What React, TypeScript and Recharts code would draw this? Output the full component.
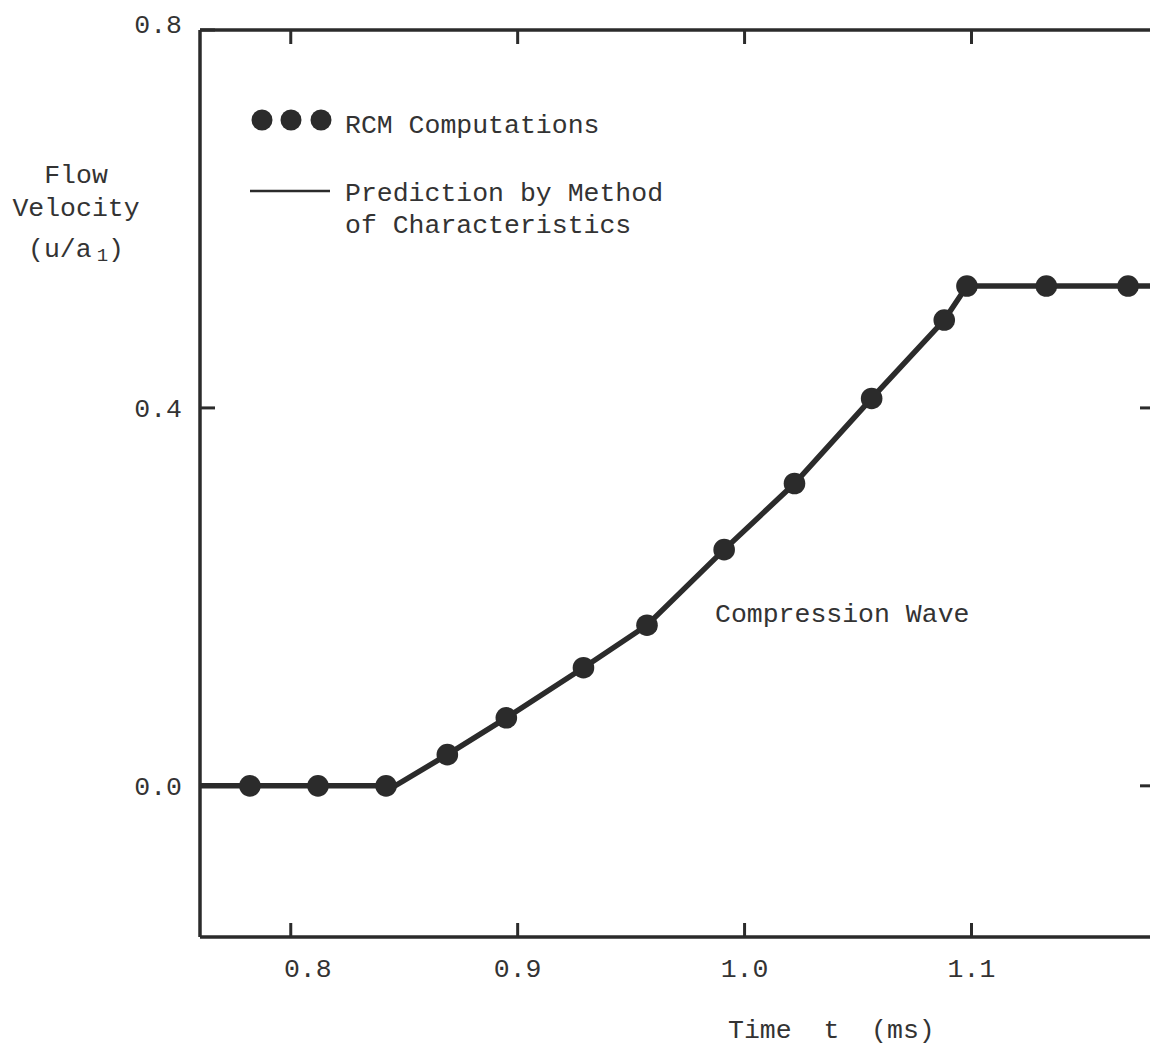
import React from 'react';
import { ComposedChart, Line, Scatter, XAxis, YAxis, Legend } from 'recharts';

const FONT = '"Liberation Mono", "Courier New", monospace';
const INK = '#2b2b2b';
const TEXT = '#333333';
const FS = 26.5;

// axis ticks
const xTicks = [0.8, 0.9, 1.0, 1.1];
const yTicks = [0.0, 0.4, 0.8];
const rightTicks = [0.0, 0.4];

// RCM computations (dots)
const rcmTime = [0.782, 0.812, 0.842, 0.869, 0.895, 0.929, 0.957, 0.991, 1.022, 1.056, 1.088, 1.098, 1.133, 1.169];
const rcmVelocity = [0, 0, 0, 0.033, 0.072, 0.125, 0.170, 0.250, 0.320, 0.410, 0.493, 0.529, 0.529, 0.529];

// Prediction by method of characteristics (line)
const mocTime = [0.76, 0.846, 0.869, 0.895, 0.929, 0.957, 0.991, 1.022, 1.056, 1.088, 1.098, 1.18];
const mocVelocity = [0, 0, 0.033, 0.072, 0.125, 0.170, 0.250, 0.320, 0.410, 0.493, 0.529, 0.529];

const rcmData = rcmTime.map((t, i) => ({ t, u: rcmVelocity[i] }));
const mocData = mocTime.map((t, i) => ({ t, u: mocVelocity[i] }));

const TICK_W = 3;

// bottom axis: tick at axis line pointing inward (up), label below
const XTickBottom = (p: any) => {
  const v = p.payload.value;
  const dx = Math.abs(v - 0.8) < 1e-9 ? 17 : 0;
  return (
    <g>
      <line x1={p.x} x2={p.x} y1={p.y} y2={p.y - 14} stroke={INK} strokeWidth={TICK_W} />
      <text x={p.x + dx} y={p.y + 40} textAnchor="middle" fontFamily={FONT} fontSize={FS} fill={TEXT}>
        {Number(v).toFixed(1)}
      </text>
    </g>
  );
};

// top axis: tick pointing inward (down), no label
const XTickTop = (p: any) => (
  <line x1={p.x} x2={p.x} y1={p.y} y2={p.y + 14} stroke={INK} strokeWidth={TICK_W} />
);

// left axis: tick pointing inward (right), label to the left
const YTickLeft = (p: any) => {
  const v = p.payload.value;
  const dy = Math.abs(v - 0.8) < 1e-9 ? 3 : 9;
  return (
    <g>
      <line x1={p.x} x2={p.x + 15} y1={p.y} y2={p.y} stroke={INK} strokeWidth={TICK_W} />
      <text x={p.x - 18} y={p.y + dy} textAnchor="end" fontFamily={FONT} fontSize={FS} fill={TEXT}>
        {Number(v).toFixed(1)}
      </text>
    </g>
  );
};

// right axis: tick pointing inward (left), no label
const YTickRight = (p: any) => (
  <line x1={p.x} x2={p.x - 13} y1={p.y} y2={p.y} stroke={INK} strokeWidth={TICK_W} />
);

const renderLegend = () => (
  <svg width={460} height={160} style={{ display: 'block' }}>
    <circle cx={22} cy={25} r={10.5} fill={INK} />
    <circle cx={51} cy={25} r={10.5} fill={INK} />
    <circle cx={81} cy={25} r={10.5} fill={INK} />
    <text x={105} y={38} fontFamily={FONT} fontSize={FS} fill={TEXT}>RCM Computations</text>
    <line x1={10} x2={90} y1={96} y2={96} stroke={INK} strokeWidth={2.5} />
    <text x={105} y={106} fontFamily={FONT} fontSize={FS} fill={TEXT}>Prediction by Method</text>
    <text x={105} y={138} fontFamily={FONT} fontSize={FS} fill={TEXT}>of Characteristics</text>
  </svg>
);

const axisLine = { stroke: INK, strokeWidth: 3.5 };

export default function App() {
  return (
    <div style={{ position: 'absolute', left: 0, top: 0, width: 1150, height: 1045, overflow: 'hidden', background: '#ffffff' }}>
      <ComposedChart width={1170} height={1045} margin={{ top: 29, right: 16, bottom: 48, left: 130 }}>
        <XAxis
          xAxisId="b"
          type="number"
          dataKey="t"
          domain={[0.76, 1.18]}
          allowDataOverflow
          ticks={xTicks}
          interval={0}
          orientation="bottom"
          height={60}
          axisLine={axisLine}
          tickLine={false}
          tickSize={0}
          tickMargin={0}
          tick={(p: any) => <XTickBottom {...p} />}
        />
        <XAxis
          xAxisId="t"
          type="number"
          dataKey="t"
          domain={[0.76, 1.18]}
          allowDataOverflow
          ticks={xTicks}
          interval={0}
          orientation="top"
          height={1}
          axisLine={axisLine}
          tickLine={false}
          tickSize={0}
          tickMargin={0}
          tick={(p: any) => <XTickTop {...p} />}
        />
        <YAxis
          yAxisId="l"
          type="number"
          dataKey="u"
          domain={[-0.16, 0.8]}
          allowDataOverflow
          ticks={yTicks}
          interval={0}
          width={70}
          axisLine={axisLine}
          tickLine={false}
          tickSize={0}
          tickMargin={0}
          tick={(p: any) => <YTickLeft {...p} />}
        />
        <YAxis
          yAxisId="r"
          orientation="right"
          type="number"
          dataKey="u"
          domain={[-0.16, 0.8]}
          allowDataOverflow
          ticks={rightTicks}
          interval={0}
          width={1}
          axisLine={axisLine}
          tickLine={false}
          tickSize={0}
          tickMargin={0}
          tick={(p: any) => <YTickRight {...p} />}
        />
        <Line
          xAxisId="b"
          yAxisId="l"
          data={mocData}
          dataKey="u"
          type="linear"
          stroke={INK}
          strokeWidth={5.5}
          dot={false}
          activeDot={false}
          isAnimationActive={false}
          name="Prediction by Method of Characteristics"
          legendType="line"
        />
        <Scatter
          xAxisId="b"
          yAxisId="l"
          data={rcmData}
          dataKey="u"
          fill={INK}
          isAnimationActive={false}
          name="RCM Computations"
          shape={(p: any) => <circle cx={p.cx} cy={p.cy} r={10.8} fill={INK} />}
        />
        <Legend
          content={renderLegend}
          layout="horizontal"
          verticalAlign="middle"
          align="center"
          wrapperStyle={{ left: 240, top: 95, width: 460, height: 160 }}
        />
      </ComposedChart>
      <svg
        width={1150}
        height={1045}
        style={{ position: 'absolute', left: 0, top: 0, pointerEvents: 'none' }}
      >
        <g fontFamily={FONT} fontSize={FS} fill={TEXT}>
          <text x={76} y={183} textAnchor="middle">Flow</text>
          <text x={76} y={216} textAnchor="middle">Velocity</text>
          <text x={76} y={257} textAnchor="middle">
            (u/a
            <tspan fontSize={19} dx={5} dy={4}>1</tspan>
            <tspan dy={-4}>)</tspan>
          </text>
          <text x={715} y={622}>Compression Wave</text>
          <text x={728} y={1038} style={{ whiteSpace: 'pre' }}>{'Time  t  (ms)'}</text>
        </g>
      </svg>
    </div>
  );
}
